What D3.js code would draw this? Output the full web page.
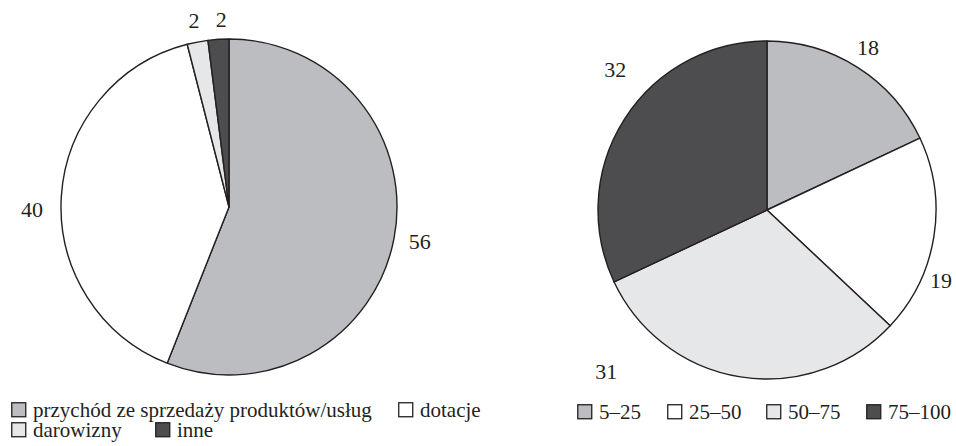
<!DOCTYPE html>
<html>
<head>
<meta charset="utf-8">
<script src="https://cdn.jsdelivr.net/npm/d3@7"></script>
<style>
  html, body { margin: 0; padding: 0; background: #fff; }
  svg { display: block; }
</style>
</head>
<body>
<svg id="chart" width="956" height="446"></svg>
<script>
// Źródła finansowania (%)
const sourceCategories = ["przychód ze sprzedaży produktów/usług", "dotacje", "darowizny", "inne"];
const sourceValues = [56, 40, 2, 2];

// Udział (%) w przedziałach
const shareCategories = ["5–25", "25–50", "50–75", "75–100"];
const shareValues = [18, 19, 31, 32];

const fills = ["#bcbdc1", "#ffffff", "#e6e7e9", "#4d4d4f"];
const ink = "#231f20";
const serifFont = "Liberation Serif";

const svg = d3.select("#chart")
  .attr("font-family", serifFont);

const pie = d3.pie().sort(null).value(d => d);

// label placement per slice: [angle shift (deg), distance beyond rim (px)]
const sourceLabelPlace = [[-0.4, 26], [-4.5, 29], [0.2, 22], [1.2, 19]];
const shareLabelPlace = [[-0.5, 22], [13.2, 19], [35.8, 59], [10.4, 38]];

function drawPie(values, cx, cy, r, place) {
  const g = svg.append("g").attr("transform", `translate(${cx},${cy})`);
  const arcs = pie(values);
  const arc = d3.arc().innerRadius(0).outerRadius(r);
  g.selectAll("path")
    .data(arcs)
    .join("path")
    .attr("d", arc)
    .attr("fill", (d, i) => fills[i])
    .attr("stroke", ink)
    .attr("stroke-width", 1.4)
    .attr("stroke-linejoin", "round");
  const pos = (d, i) => {
    const a = (d.startAngle + d.endAngle) / 2 + place[i][0] * Math.PI / 180;
    const rr = r + place[i][1];
    return [Math.sin(a) * rr, -Math.cos(a) * rr];
  };
  g.selectAll("text.val")
    .data(arcs)
    .join("text")
    .attr("class", "val")
    .attr("font-family", serifFont)
    .attr("fill", ink)
    .attr("text-anchor", "middle")
    .attr("font-size", 22)
    .attr("dy", "0.33em")
    .attr("x", (d, i) => pos(d, i)[0])
    .attr("y", (d, i) => pos(d, i)[1])
    .text(d => d.value);
}

drawPie(sourceValues, 229, 207, 168, sourceLabelPlace);
drawPie(shareValues, 767, 210, 169, shareLabelPlace);

function legendItem(x, y, label, fill) {
  const g = svg.append("g").attr("transform", `translate(${x},${y})`);
  g.append("rect")
    .attr("x", 0.75).attr("y", -14.25)
    .attr("width", 14).attr("height", 14)
    .attr("fill", fill)
    .attr("stroke", ink)
    .attr("stroke-width", 1.3);
  g.append("text")
    .attr("font-family", serifFont)
    .attr("fill", ink)
    .attr("x", 22).attr("y", 0)
    .attr("font-size", 21)
    .text(label);
}

// lewa legenda: dwa wiersze
const leftLegendX = [11, 398, 11, 155];
const leftLegendY = [417, 417, 437, 437];
sourceCategories.forEach((c, i) => legendItem(leftLegendX[i], leftLegendY[i], c, fills[i]));

// prawa legenda: jeden wiersz
const rightLegendX = [577, 667, 766, 866];
shareCategories.forEach((c, i) => legendItem(rightLegendX[i], 419, c, fills[i]));
</script>
</body>
</html>
